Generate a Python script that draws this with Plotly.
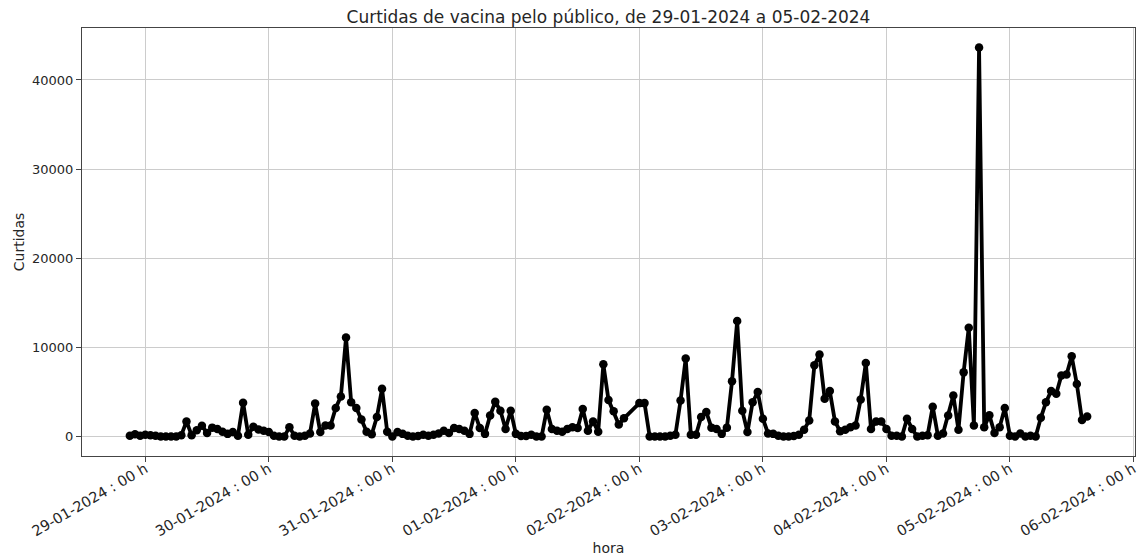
import pandas as pd
import plotly.graph_objects as go

# Hourly counts per day (first hour of each list given in start_hours)
days = ["2024-01-28", "2024-01-29", "2024-01-30", "2024-01-31",
        "2024-02-01", "2024-02-02", "2024-02-03", "2024-02-04", "2024-02-05"]
start_hours = [21, 0, 0, 0, 0, 0, 0, 0, 0]

v_28 = [100, 250, 100]
v_29 = [200, 150, 100, 0, 0, 0, 0, 150, 1700, 150, 700, 1200, 400, 1000, 850, 550,
        300, 500, 100, 3800, 200, 1100, 800, 650]
v_30 = [500, 100, 0, 0, 1050, 100, 0, 100, 350, 3700, 500, 1250, 1250, 3200, 4500,
        11100, 3850, 3200, 1900, 550, 250, 2200, 5350, 550]
v_31 = [0, 500, 300, 100, 0, 50, 200, 100, 200, 350, 650, 400, 950, 850, 650, 300,
        2650, 950, 300, 2350, 3900, 2900, 850, 2900]
v_01 = [300, 50, 50, 200, 0, 0, 3000, 850, 650, 550, 850, 1050, 950, 3100, 650, 1700,
        550, 8100, 4100, 2850, 1350, 2050]          # 22h and 23h missing
v_02 = [3750, 3750, 0, 0, 0, 0, 100, 200, 4050, 8750, 200, 200, 2200, 2750, 1000, 850,
        300, 1000, 6200, 12950, 2900, 500, 3850, 5000]
v_03 = [2000, 350, 300, 100, 0, 0, 50, 200, 750, 1800, 8000, 9200, 4250, 5100, 1700, 600,
        750, 1050, 1250, 4150, 8250, 850, 1700, 1700]
v_04 = [850, 100, 100, 0, 2000, 850, 0, 100, 150, 3350, 100, 350, 2350, 4600, 750, 7200,
        12200, 1250, 43650, 1050, 2400, 400, 1050, 3200]
v_05 = [100, 0, 350, 0, 100, 0, 2100, 3850, 5100, 4800, 6850, 6950, 9000, 5900, 1850, 2250]

day_values = [v_28, v_29, v_30, v_31, v_01, v_02, v_03, v_04, v_05]

tick_dates = ["2024-01-29", "2024-01-30", "2024-01-31", "2024-02-01", "2024-02-02",
              "2024-02-03", "2024-02-04", "2024-02-05", "2024-02-06"]
tick_labels = ["29-01-2024 : 00 h", "30-01-2024 : 00 h", "31-01-2024 : 00 h",
               "01-02-2024 : 00 h", "02-02-2024 : 00 h", "03-02-2024 : 00 h",
               "04-02-2024 : 00 h", "05-02-2024 : 00 h", "06-02-2024 : 00 h"]

times, values = [], []
for d, h0, vals in zip(days, start_hours, day_values):
    base = pd.Timestamp(d)
    for i, v in enumerate(vals):
        times.append(base + pd.Timedelta(hours=h0 + i))
        values.append(v)

t_min, t_max = min(times), max(times)
pad = (t_max - t_min) * 0.05
y_max = max(values)
y_pad = (y_max - 0) * 0.05

fig = go.Figure()
fig.add_trace(go.Scatter(
    x=times, y=values, mode="lines+markers",
    line=dict(color="black", width=3.8),
    marker=dict(color="black", size=8.5),
    showlegend=False,
))

font = dict(family="DejaVu Sans", size=13, color="#262626")
fig.update_layout(
    width=1138, height=557,
    margin=dict(l=82, r=3, t=28, b=101),
    paper_bgcolor="white", plot_bgcolor="white",
    font=font,
    title=dict(text="Curtidas de vacina pelo público, de 29-01-2024 a 05-02-2024",
               x=0.5347, xanchor="center", y=0.969, yanchor="middle",
               font=dict(family="DejaVu Sans", size=17, color="#262626")),
    xaxis=dict(
        range=[t_min - pad, t_max + pad],
        tickmode="array",
        tickvals=[pd.Timestamp(d) for d in tick_dates],
        ticktext=tick_labels,
        tickangle=-30,
        ticklabeloverflow="allow",
        ticklabelstandoff=-7,
        tickfont=dict(family="DejaVu Sans", size=14.5, color="#262626"),
        showgrid=True, gridcolor="#cccccc", gridwidth=1,
        showline=True, linecolor="#444444", linewidth=1, mirror=True,
        ticks="outside", ticklen=5, tickcolor="#444444",
        zeroline=False,
        title=dict(text="hora", font=dict(family="DejaVu Sans", size=14, color="#262626"),
                   standoff=4),
        automargin=False,
    ),
    yaxis=dict(
        range=[0 - y_pad, y_max + y_pad],
        tickvals=[0, 10000, 20000, 30000, 40000],
        ticktext=["0", "10000", "20000", "30000", "40000"],
        showgrid=True, gridcolor="#cccccc", gridwidth=1,
        showline=True, linecolor="#444444", linewidth=1, mirror=True,
        ticks="outside", ticklen=5, tickcolor="#444444",
        zeroline=False,
        title=dict(text="Curtidas", font=dict(family="DejaVu Sans", size=14, color="#262626"),
                   standoff=4),
        automargin=False,
    ),
)

fig.write_html(
    "out.html",
    config={"displayModeBar": False},
    post_script="document.body.style.margin='0';document.body.style.overflow='hidden';",
)
